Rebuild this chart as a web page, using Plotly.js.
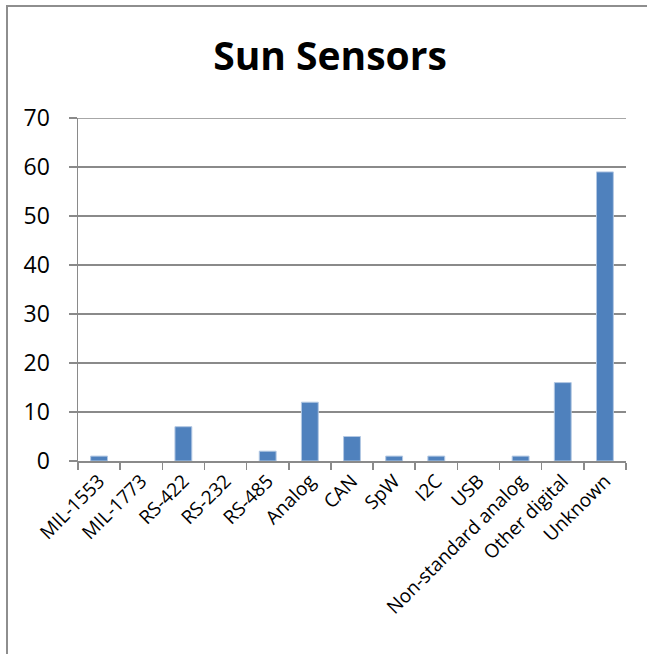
<!DOCTYPE html>
<html>
<head>
<meta charset="utf-8">
<script src="https://cdn.plot.ly/plotly-3.0.1.min.js"></script>
<style>
  html, body { margin: 0; padding: 0; background: #fff; overflow: hidden; }
  #wrap { position: relative; width: 647px; height: 654px; overflow: hidden; }
  #chart { position: absolute; left: 0; top: 0; width: 647px; height: 654px; }
  #frame { position: absolute; left: 6px; top: 5px; width: 700px; height: 700px;
           border-top: 2px solid #8e8e8e; border-left: 2px solid #8e8e8e;
           pointer-events: none; box-sizing: border-box; }
</style>
</head>
<body>
<div id="wrap">
  <div id="chart"></div>
  <div id="frame"></div>
</div>
<script>
const categories = ["MIL-1553", "MIL-1773", "RS-422", "RS-232", "RS-485", "Analog", "CAN", "SpW", "I2C", "USB", "Non-standard analog", "Other digital", "Unknown"];
const counts = [1, 0, 7, 0, 2, 12, 5, 1, 1, 0, 1, 16, 59];
const yTicks = [0, 10, 20, 30, 40, 50, 60, 70];

const W = 647, H = 654;
const m = { l: 78, r: 21, t: 118, b: 193 };
const gray = '#8a8a8a';

const trace = {
  type: 'bar',
  x: categories,
  y: counts.map(v => (v === 0 ? null : v)),
  marker: { color: '#4F81BD', line: { color: '#b3c8e3', width: 1 } },
  hoverinfo: 'x+y'
};

const layout = {
  width: W, height: H,
  margin: m,
  paper_bgcolor: '#ffffff',
  plot_bgcolor: '#ffffff',
  showlegend: false,
  bargap: 0.6,
  font: { family: 'Open Sans, sans-serif', color: '#000' },
  title: {
    text: '<b>Sun Sensors</b>',
    font: { family: 'Open Sans, sans-serif', size: 39, color: '#000' },
    xref: 'container', yref: 'container',
    x: 330 / W, xanchor: 'center',
    y: 1 - 56 / H, yanchor: 'middle'
  },
  xaxis: {
    type: 'category',
    tickangle: -45,
    tickson: 'boundaries',
    ticks: 'outside', ticklen: 7, tickcolor: gray, tickwidth: 1.5,
    showline: true, linecolor: gray, linewidth: 1.5,
    showgrid: false,
    tickfont: { family: 'Open Sans, sans-serif', size: 19, color: '#000' },
    fixedrange: true
  },
  yaxis: {
    range: [0, 70],
    tickvals: yTicks,
    ticktext: yTicks.map(String),
    ticks: 'outside', ticklen: 8, tickcolor: gray, tickwidth: 1.5,
    showline: true, linecolor: gray, linewidth: 1.5,
    showgrid: true, gridcolor: gray, gridwidth: 1.5,
    zeroline: false,
    tickfont: { family: 'Open Sans, sans-serif', size: 23, color: '#000' },
    ticklabelstandoff: 14,
    fixedrange: true
  },
  shapes: [
    { type: 'line', xref: 'paper', yref: 'y', x0: 0, x1: 1, y0: 70, y1: 70, line: { color: gray, width: 1.5 } }
  ]
};

Plotly.newPlot('chart', [trace], layout, { displayModeBar: false, staticPlot: true });
</script>
</body>
</html>
